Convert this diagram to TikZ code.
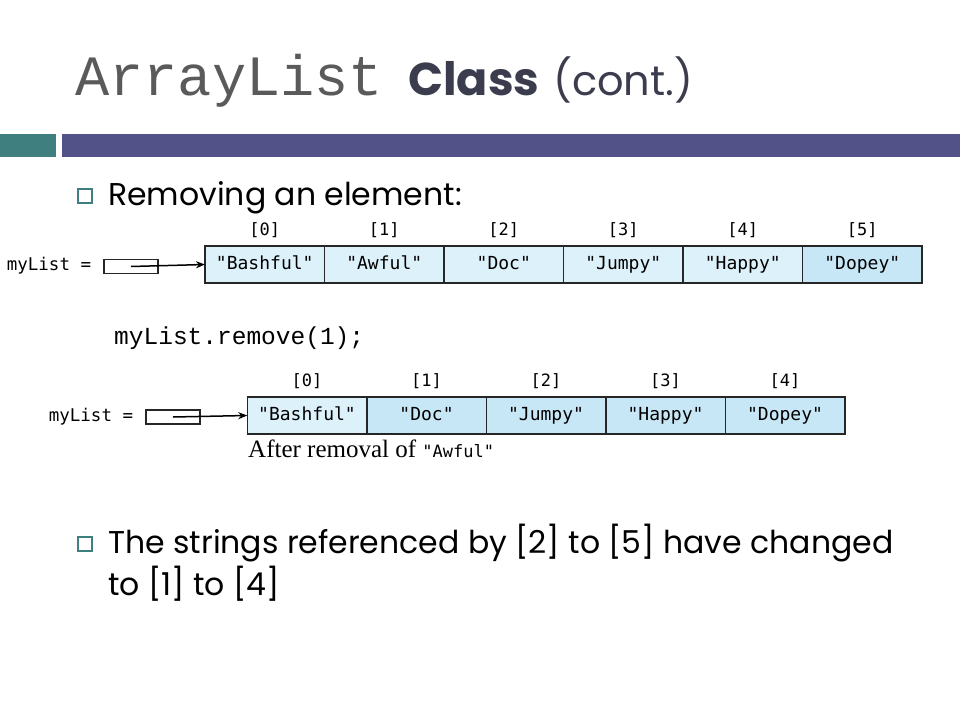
\documentclass[tikz,border=0pt]{standalone}
\usepackage{fontspec}
\setmainfont{Poppins}
\newfontfamily\cellfont{DejaVu Sans Mono}
\newfontfamily\codefont{Liberation Mono}
\newfontfamily\capfont{Liberation Serif}
\usetikzlibrary{arrows.meta}
\usetikzlibrary{positioning}
\definecolor{tealbar}{HTML}{3F7F80}
\definecolor{slatebar}{HTML}{535288}
\definecolor{cellpale}{HTML}{DDF1FB}
\definecolor{celldeep}{HTML}{C8E7F6}
\definecolor{titlegray}{HTML}{5A5A5A}
\definecolor{titledark}{HTML}{3B3C4E}
\tikzset{
  cell/.style={draw=black!85, line width=1.5pt, fill=cellpale, minimum width=119.5pt, minimum height=37pt, inner sep=0pt, outer sep=0pt, text height=13pt, text depth=3pt, font=\cellfont\fontsize{18}{18}\selectfont},
  idx/.style={inner sep=0pt, font=\cellfont\fontsize{17}{17}\selectfont},
  ptrbox/.style={draw=black!85, line width=1.5pt, minimum width=54pt, minimum height=14pt, inner sep=0pt},
  varname/.style={inner sep=0pt, font=\cellfont\fontsize{17.5}{17.5}\selectfont},
  bullet/.style={draw=tealbar, line width=1.2pt, minimum size=14pt, inner sep=0pt},
  bodytext/.style={anchor=base west, inner sep=0pt, font=\fontsize{31.5}{31.5}\selectfont}
}
\begin{document}
\begin{tikzpicture}[x=1pt, y=-1pt]
  \useasboundingbox (0,0) rectangle (960,720);
  % draw title
  \node[anchor=base west, inner sep=0pt, text=titlegray, font=\codefont\fontsize{57}{57}\selectfont] (ttl) at (75,95) {ArrayList};
  \node[anchor=base west, inner sep=0pt, text=titledark, font=\bfseries\fontsize{46}{46}\selectfont] (ttlb) at (408,95) {Class};
  \node[anchor=base west, inner sep=0pt, text=titledark, font=\fontsize{41.5}{41.5}\selectfont] (ttlc) at (553,95) {(cont.)};
  % add bars
  \fill[tealbar] (0,134) rectangle (56,157);
  \fill[slatebar] (62,134) rectangle (960,157);
  % first bullet
  \node[bullet] (b1) at (85,196) {};
  \node[bodytext] (t1) at (108,205) {Removing an element:};

  % list before removal
  \node[varname] (nameA) at (49,266) {myList =};
  \node[ptrbox] (ptrA) at (131,266.5) {};
  \node[cell] (a0) at (264.75,264.5) {"Bashful"};
  \node[cell, right=0pt of a0] (a1) {"Awful"};
  \node[cell, right=0pt of a1] (a2) {"Doc"};
  \node[cell, right=0pt of a2] (a3) {"Jumpy"};
  \node[cell, right=0pt of a3] (a4) {"Happy"};
  \node[cell, right=0pt of a4, fill=celldeep] (a5) {"Dopey"};
  \node[idx, above=8pt of a0] {[0]};
  \node[idx, above=8pt of a1] {[1]};
  \node[idx, above=8pt of a2] {[2]};
  \node[idx, above=8pt of a3] {[3]};
  \node[idx, above=8pt of a4] {[4]};
  \node[idx, above=8pt of a5] {[5]};
  \draw[line width=1.5pt, -{Stealth[length=9pt, width=7pt]}] (ptrA.center) -- (a0.west);

  % the call
  \node[anchor=base west, inner sep=0pt, font=\codefont\fontsize{24.5}{25}\selectfont] (call) at (114,344) {myList.remove(1);};

  % list after removal
  \node[varname] (nameB) at (91,417) {myList =};
  \node[ptrbox] (ptrB) at (173,417) {};
  \node[cell] (c0) at (307,415.5) {"Bashful"};
  \node[cell, right=0pt of c0, fill=celldeep] (c1) {"Doc"};
  \node[cell, right=0pt of c1, fill=celldeep] (c2) {"Jumpy"};
  \node[cell, right=0pt of c2, fill=celldeep] (c3) {"Happy"};
  \node[cell, right=0pt of c3, fill=celldeep] (c4) {"Dopey"};
  \node[idx, above=8pt of c0] {[0]};
  \node[idx, above=8pt of c1] {[1]};
  \node[idx, above=8pt of c2] {[2]};
  \node[idx, above=8pt of c3] {[3]};
  \node[idx, above=8pt of c4] {[4]};
  \draw[line width=1.5pt, -{Stealth[length=9pt, width=7pt]}] (ptrB.center) -- (c0.west);
  \node[anchor=base west, inner sep=0pt, font=\capfont\fontsize{25}{25}\selectfont] (cap) at (248,457) {After removal of {\cellfont\fontsize{17}{17}\selectfont"Awful"}};

  % second bullet
  \node[bullet] (b2) at (85,544) {};
  \node[bodytext] (t2) at (108,553) {The strings referenced by [2] to [5] have changed};
  \node[bodytext] (t3) at (108,595) {to [1] to [4]};
\end{tikzpicture}
\end{document}
